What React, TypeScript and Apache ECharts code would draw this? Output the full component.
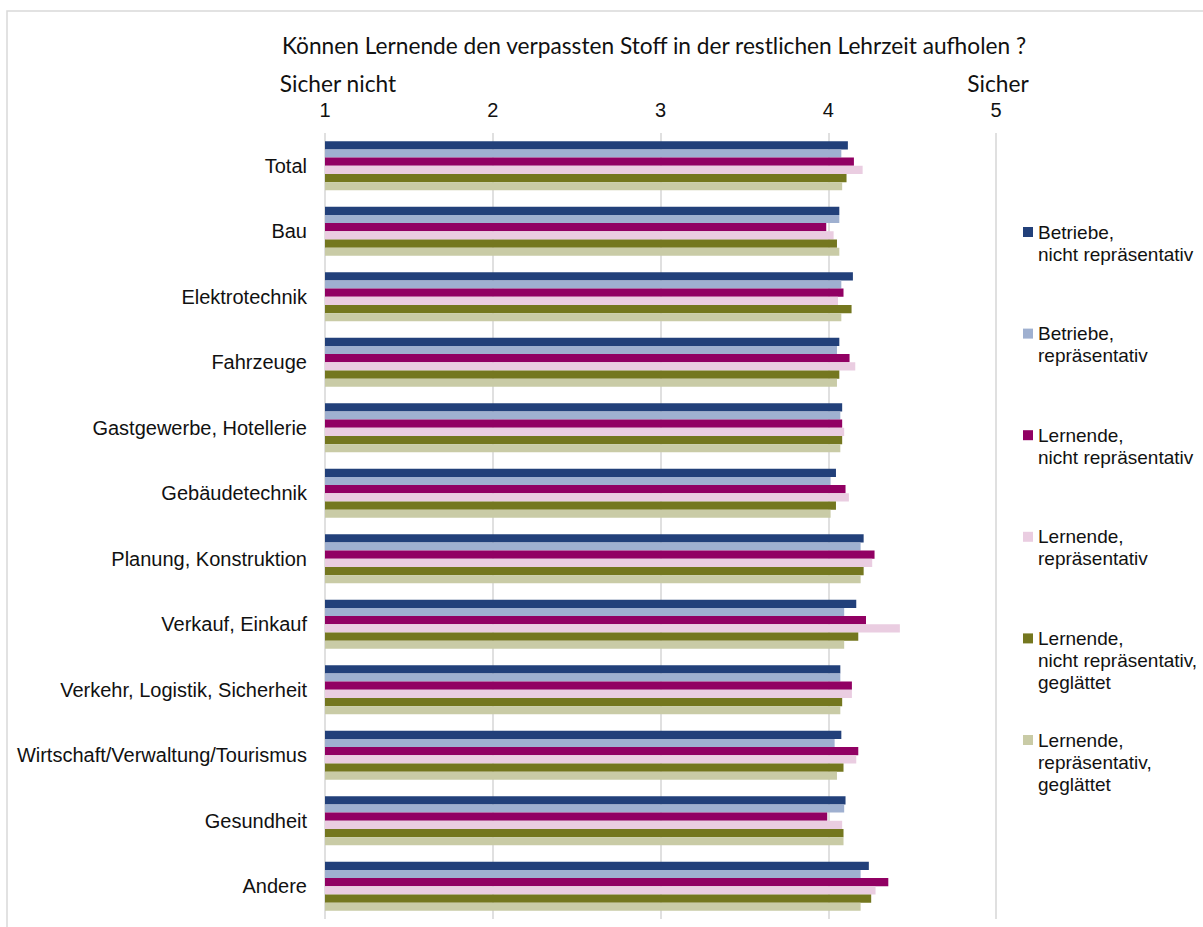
import React, { useEffect, useRef } from 'react';
import * as echarts from 'echarts';

const categories = [
  'Total',
  'Bau',
  'Elektrotechnik',
  'Fahrzeuge',
  'Gastgewerbe, Hotellerie',
  'Gebäudetechnik',
  'Planung, Konstruktion',
  'Verkauf, Einkauf',
  'Verkehr, Logistik, Sicherheit',
  'Wirtschaft/Verwaltung/Tourismus',
  'Gesundheit',
  'Andere',
];

const seriesNames = [
  'Betriebe,\nnicht repräsentativ',
  'Betriebe,\nrepräsentativ',
  'Lernende,\nnicht repräsentativ',
  'Lernende,\nrepräsentativ',
  'Lernende,\nnicht repräsentativ,\ngeglättet',
  'Lernende,\nrepräsentativ,\ngeglättet',
];

const seriesColors = ['#22407a', '#9fb0d0', '#910063', '#eacde1', '#74771f', '#c9cba6'];

const betriebeNichtRep = [4.117, 4.066, 4.147, 4.066, 4.083, 4.046, 4.211, 4.167, 4.072, 4.078, 4.103, 4.242];
const betriebeRep = [4.078, 4.066, 4.078, 4.052, 4.072, 4.014, 4.193, 4.095, 4.072, 4.038, 4.095, 4.193];
const lernendeNichtRep = [4.153, 3.988, 4.091, 4.127, 4.083, 4.103, 4.276, 4.225, 4.141, 4.179, 3.994, 4.358];
const lernendeRep = [4.205, 4.032, 4.058, 4.161, 4.095, 4.123, 4.262, 4.427, 4.141, 4.167, 4.083, 4.282];
const lernendeNichtRepGegl = [4.109, 4.052, 4.139, 4.066, 4.083, 4.046, 4.211, 4.179, 4.083, 4.091, 4.091, 4.256];
const lernendeRepGegl = [4.083, 4.066, 4.078, 4.052, 4.072, 4.014, 4.193, 4.095, 4.072, 4.052, 4.091, 4.193];

const seriesValues = [
  betriebeNichtRep,
  betriebeRep,
  lernendeNichtRep,
  lernendeRep,
  lernendeNichtRepGegl,
  lernendeRepGegl,
];

const axisMin = 1;
const axisMax = 5;
const axisInterval = 1;

const titleText = 'Können Lernende den verpassten Stoff in der restlichen Lehrzeit aufholen ?';
const lowEndLabel = 'Sicher nicht';
const highEndLabel = 'Sicher';

const ARIAL = '"Liberation Sans", Arial, sans-serif';

export default function App() {
  const ref = useRef<HTMLDivElement>(null);

  useEffect(() => {
    if (!ref.current) return;
    const chart = echarts.init(ref.current, undefined, { renderer: 'svg' });

    const legendTop = 232;
    const legendStep = 101.6;
    const legendGraphics: any[] = [];
    seriesNames.forEach((name, i) => {
      const cy = legendTop + i * legendStep;
      legendGraphics.push({
        type: 'rect',
        shape: { x: 1023, y: cy - 5, width: 10, height: 10 },
        style: { fill: seriesColors[i] },
        silent: true,
      });
      legendGraphics.push({
        type: 'text',
        x: 1038,
        y: cy - 11,
        style: {
          text: name,
          fill: '#111',
          font: '19px ' + ARIAL,
          lineHeight: 22,
          textVerticalAlign: 'top',
        },
        silent: true,
      });
    });

    const option: any = {
      animation: false,
      backgroundColor: '#fff',
      grid: { left: 325, right: 207, top: 133, height: 786, containLabel: false },
      xAxis: {
        type: 'value',
        position: 'top',
        min: axisMin,
        max: axisMax,
        interval: axisInterval,
        axisLine: { show: false },
        axisTick: { show: false },
        axisLabel: {
          color: '#111',
          fontSize: 20,
          fontFamily: ARIAL,
          margin: 13,
        },
        splitLine: { show: true, lineStyle: { color: '#d9d9d9', width: 1.6 } },
      },
      yAxis: {
        type: 'category',
        data: categories,
        inverse: true,
        axisLine: { show: false },
        axisTick: { show: false },
        axisLabel: {
          color: '#111',
          fontSize: 20,
          fontFamily: ARIAL,
          margin: 18,
        },
      },
      series: seriesValues.map((vals, i) => ({
        type: 'bar',
        name: seriesNames[i],
        data: vals,
        barGap: '0%',
        barCategoryGap: '25%',
        itemStyle: { color: seriesColors[i] },
        clip: true,
      })),
      graphic: [
        {
          type: 'rect',
          shape: { x: 7, y: 11, width: 1400, height: 1200 },
          style: { fill: 'none', stroke: '#d9d9d9', lineWidth: 1.5 },
          silent: true,
        },
        {
          type: 'text',
          x: 654,
          y: 45,
          style: {
            text: titleText,
            fill: '#111',
            font: '22.7px Lato, "Noto Sans", sans-serif',
            textAlign: 'center',
            textVerticalAlign: 'middle',
          },
          silent: true,
        },
        {
          type: 'text',
          x: 338,
          y: 83,
          style: {
            text: lowEndLabel,
            fill: '#111',
            font: '22.7px Lato, "Noto Sans", sans-serif',
            textAlign: 'center',
            textVerticalAlign: 'middle',
          },
          silent: true,
        },
        {
          type: 'text',
          x: 998,
          y: 83,
          style: {
            text: highEndLabel,
            fill: '#111',
            font: '22.7px Lato, "Noto Sans", sans-serif',
            textAlign: 'center',
            textVerticalAlign: 'middle',
          },
          silent: true,
        },
        ...legendGraphics,
      ],
    };

    chart.setOption(option);
    return () => chart.dispose();
  }, []);

  return (
    <div
      ref={ref}
      style={{ position: 'fixed', left: 0, top: 0, width: 1203, height: 927, background: '#fff' }}
    />
  );
}
